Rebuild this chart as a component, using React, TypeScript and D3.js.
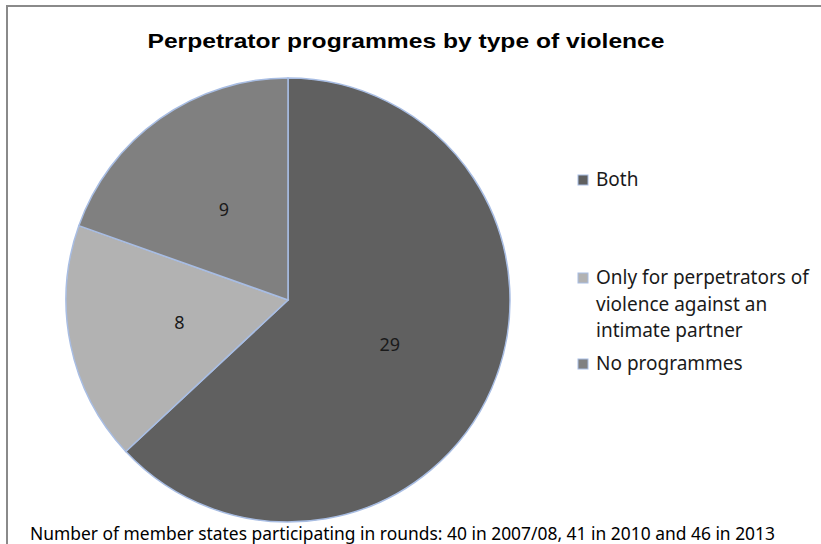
import React from "react";
import * as d3 from "d3";

const categories = ["Both", "Only for perpetrators of violence against an intimate partner", "No programmes"];
const values = [29, 8, 9];
const legendLines = [["Both"], ["Only for perpetrators of", "violence against an", "intimate partner"], ["No programmes"]];
const colors = ["#606060", "#b2b2b2", "#808080"];
const title = "Perpetrator programmes by type of violence";
const footer = "Number of member states participating in rounds: 40 in 2007/08, 41 in 2010 and 46 in 2013";

export default function App() {
  const W = 821, H = 544;
  const cx = 288, cy = 300, r = 222;
  const pie = d3.pie<number>().sort(null).value((d) => d)(values);
  const arc = d3.arc<d3.PieArcDatum<number>>().innerRadius(0).outerRadius(r);
  const labelArc = d3.arc<d3.PieArcDatum<number>>().innerRadius(r * 0.5).outerRadius(r * 0.5);
  const legendY = [175, 273, 359];
  const font = "'Noto Sans', 'Open Sans', sans-serif";
  return (
    <svg width={W} height={H} style={{ position: "absolute", left: 0, top: 0 }}>
      <rect x={0} y={0} width={W} height={H} fill="#ffffff" />
      <rect x={7} y={6} width={W + 20} height={H + 20} fill="none" stroke="#8a8a8a" strokeWidth={2} />
      <text x={406} y={48} textAnchor="middle" fontFamily="'Liberation Sans Narrow', 'Liberation Sans', Arial, sans-serif" fontWeight="bold" fontSize={21} fill="#000" textLength={517} lengthAdjust="spacingAndGlyphs">{title}</text>
      <g transform={`translate(${cx},${cy})`}>
        {pie.map((p, i) => (
          <path key={categories[i]} d={arc(p) || ""} fill={colors[i]} stroke="#a8bde3" strokeWidth={1.5} />
        ))}
        {pie.map((p, i) => {
          const [lx, ly] = labelArc.centroid(p);
          return (
            <text key={"l" + i} x={lx} y={ly} dy="0.35em" textAnchor="middle" fontFamily={font} fontSize={18} fill="#1a1a1a">{values[i]}</text>
          );
        })}
      </g>
      {legendLines.map((lines, i) => (
        <g key={"lg" + i}>
          <rect x={578} y={legendY[i]} width={10} height={10} fill={colors[i]} stroke="#a8bde3" strokeWidth={1} />
          {lines.map((ln, j) => (
            <text key={j} x={596} y={legendY[i] + 11 + j * 26.5} fontFamily={font} fontSize={19} fill="#1a1a1a">{ln}</text>
          ))}
        </g>
      ))}
      <text x={30} y={540} fontFamily={font} fontSize={18} fill="#000" textLength={745} lengthAdjust="spacingAndGlyphs">{footer}</text>
    </svg>
  );
}
